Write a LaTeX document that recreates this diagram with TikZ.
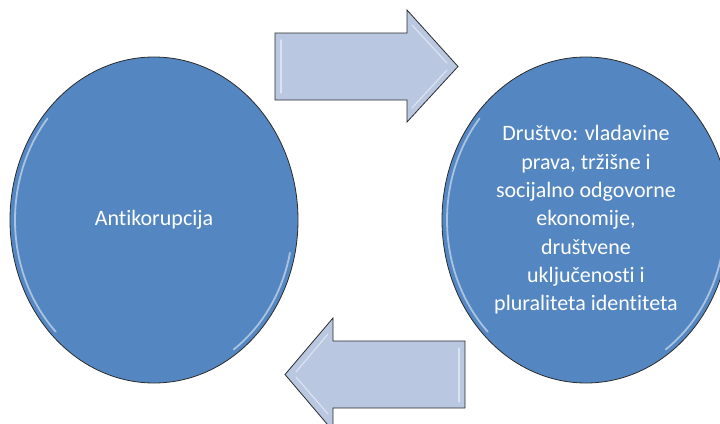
\documentclass[tikz,border=0pt]{standalone}
\usepackage{fontspec}
\setmainfont{Carlito}[Ligatures=NoCommon]
\usepackage{xcolor}
\usepackage{tikz}
\usetikzlibrary{shapes.geometric,calc}

\definecolor{bubblefill}{HTML}{5487C1}
\definecolor{arrowfill}{HTML}{B9C7E1}
\definecolor{rimdark}{HTML}{2B2B2B}

\tikzset{
    bubble/.style={ellipse,draw=rimdark,line width=0.8pt,fill=bubblefill,
        minimum width=288pt,minimum height=326pt,inner sep=0pt,
        text=white,align=center,font=\fontsize{22}{28.3}\selectfont},
    blockarrow/.style={draw=rimdark,line width=0.8pt,fill=arrowfill,line join=miter},
    shine/.style={white,opacity=0.5,line width=1.8pt,line cap=round}
}

\begin{document}
\begin{tikzpicture}[x=1pt,y=-1pt]
        \useasboundingbox (0, 0) rectangle (720, 423);
        \clip (0, 0) rectangle (720, 423);
        % the two bubbles
        \node [bubble] (anti) at (154, 220) {Antikorupcija};
        \node [bubble] (drustvo) at (586, 220) {Društvo: vladavine\\prava, tržišne i\\socijalno odgovorne\\ekonomije,\\društvene\\uključenosti i\\pluraliteta identiteta};
        % light rims
        \foreach \b in {anti, drustvo}{
            \draw [shine] (\b.center) ++(135:139 and 158) arc [start angle=135, end angle=220, x radius=139, y radius=158];
            \draw [shine] (\b.center) ++(12:139 and 158) arc [start angle=12, end angle=55, x radius=139, y radius=158];
        }
        % arrow from left to right
        \coordinate (ra) at (275, 66.5);
        \draw [blockarrow] (ra) ++(0, -33.5) -- ++(132, 0) -- ++(0, -23) -- (458, 66.5) -- (407, 122) -- ++(0, -22) -- ++(-132, 0) -- cycle;
        \draw [shine, line width=1.2pt] (281, 40) -- (281, 93);
        \draw [shine, line width=1.2pt] (412, 25) -- (447, 63);
        \draw [shine, line width=1.2pt] (412, 108) -- (447, 70);
        % arrow from right to left
        \coordinate (la) at (285, 374.5);
        \draw [blockarrow] (la) -- (333, 318) -- ++(0, 23) -- ++(132, 0) -- ++(0, 67) -- ++(-132, 0) -- ++(0, 23) -- cycle;
        \draw [shine, line width=1.2pt] (296, 372) -- (328, 334);
        \draw [shine, line width=1.2pt] (296, 377) -- (328, 414);
        \draw [shine, line width=1.2pt] (459, 348) -- (459, 402);
\end{tikzpicture}
\end{document}
